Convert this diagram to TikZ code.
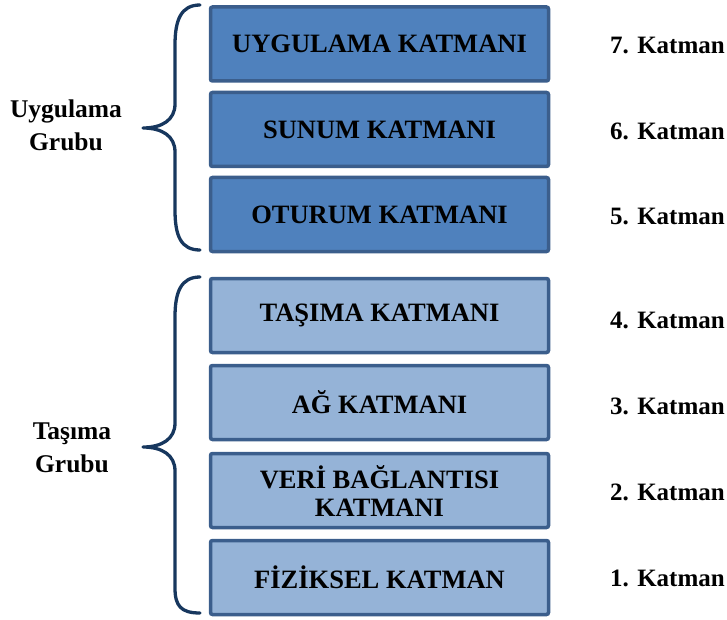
\documentclass[tikz,border=0pt]{standalone}
\usepackage{fontspec}
\setmainfont{Liberation Serif}
\definecolor{appfill}{HTML}{4F81BD}
\definecolor{transfill}{HTML}{95B3D7}
\definecolor{boxedge}{HTML}{3B5E8C}
\definecolor{bracecol}{HTML}{17375E}
\begin{document}
\begin{tikzpicture}[x=1pt,y=-1pt,
  layer/.style={draw=boxedge, line width=3.5pt, rounded corners=2pt,
    minimum width=338pt, minimum height=74pt, inner sep=0pt,
    align=center, font=\fontsize{26.5}{28}\selectfont\bfseries},
  applayer/.style={layer, fill=appfill},
  translayer/.style={layer, fill=transfill},
  levellabel/.style={anchor=west, inner sep=0pt, font=\fontsize{25}{28}\selectfont\bfseries},
  grouplabel/.style={align=center, inner sep=0pt, font=\fontsize{25.5}{33}\selectfont\bfseries},
  brace/.style={draw=bracecol, line width=3.3pt, line cap=round, line join=round}]
\useasboundingbox (0,0) rectangle (727,620);

% layer boxes
\node[applayer]   (l7) at (379.5,44)    {UYGULAMA KATMANI};
\node[applayer]   (l6) at (379.5,129.5) {SUNUM KATMANI};
\node[applayer]   (l5) at (379.5,214.5) {OTURUM KATMANI};
\node[translayer] (l4) at (379.5,315.5) {TAŞIMA KATMANI};
\node[translayer] (l3) at (379.5,402.5) {AĞ KATMANI};
\node[translayer] (l2) at (379.5,490.5) {VERİ BAĞLANTISI\\KATMANI};
\node[translayer] (l1) at (379.5,577.5) {FİZİKSEL KATMAN};

% layer numbers
\node[levellabel] (n7) at (610,45)  {7. Katman};
\node[levellabel] (n6) at (610,131) {6. Katman};
\node[levellabel] (n5) at (610,216) {5. Katman};
\node[levellabel] (n4) at (610,320) {4. Katman};
\node[levellabel] (n3) at (610,406) {3. Katman};
\node[levellabel] (n2) at (610,492) {2. Katman};
\node[levellabel] (n1) at (610,578) {1. Katman};

% group labels
\node[grouplabel] (g1) at (66,125)  {Uygulama\\Grubu};
\node[grouplabel] (g2) at (72,448)  {Taşıma\\Grubu};

% braces
\draw[brace] (200,5) .. controls (181,5) and (175,20) .. (175,45)
  -- (175,104) .. controls (175,120) and (162,128) .. (143,128)
  .. controls (162,128) and (175,136) .. (175,152)
  -- (175,210) .. controls (175,236) and (181,250) .. (200,250);
\draw[brace] (200,277) .. controls (181,277) and (175,292) .. (175,317)
  -- (175,423) .. controls (175,439) and (162,447) .. (143,447)
  .. controls (162,447) and (175,455) .. (175,471)
  -- (175,588) .. controls (175,606) and (181,613) .. (200,613);
\end{tikzpicture}
\end{document}
